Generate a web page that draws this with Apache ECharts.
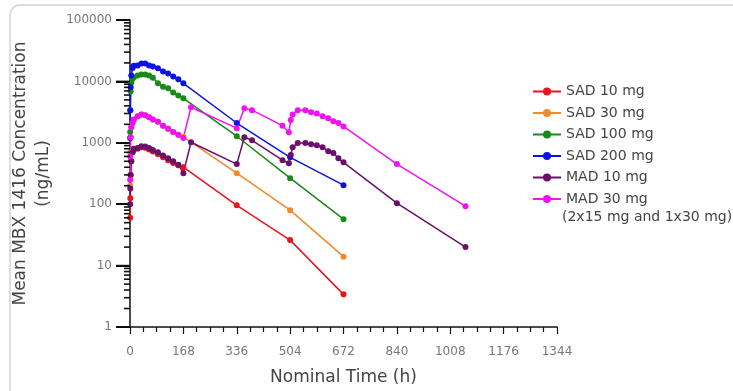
<!DOCTYPE html>
<html>
<head>
<meta charset="utf-8">
<script src="https://cdn.jsdelivr.net/npm/echarts@6/dist/echarts.min.js"></script>
<style>html,body{margin:0;padding:0;background:#fff;}#c{width:733px;height:391px;}</style>
</head>
<body>
<div id="c"></div>
<script>
// ---- data ----
const sadTimes = [0.5,1,2,4,8,12,24,36,48,60,72,88,104,120,136,152,168,336,504,672];
const sad10  = [60,125,300,500,700,780,800,850,830,780,720,650,580,520,470,430,400,96,26,3.4];
const sad30  = [200,700,1230,1800,2100,2400,2700,2900,2800,2600,2400,2200,1900,1700,1500,1350,1250,320,80,14];
const sad100 = [1500,3400,6900,9500,11000,11700,12500,13000,13000,12500,11500,9300,8200,7700,6600,5900,5300,1280,265,57];
const sad200 = [1200,3400,8000,12500,16500,18000,18200,19600,19600,18200,17500,16300,14500,13500,12000,10800,9300,2100,580,204];
const madTimes = [0.5,1,2,4,8,12,24,36,48,60,72,88,104,120,136,152,168,192,336,360,384,480,500,506,512,528,552,570,588,606,624,640,656,672,840,1056];
const mad10 = [100,180,300,500,700,800,820,880,870,820,760,700,620,560,500,440,320,1020,450,1230,1100,520,465,630,850,990,990,950,910,850,730,680,560,480,104,20];
const mad30 = [250,600,1230,1800,2100,2400,2700,2900,2800,2600,2400,2200,1900,1700,1500,1350,1200,3800,1730,3650,3400,1900,1480,2350,2900,3400,3400,3150,3000,2700,2500,2250,2100,1850,450,93];
const seriesNames = ['SAD 10 mg','SAD 30 mg','SAD 100 mg','SAD 200 mg','MAD 10 mg','MAD 30 mg'];
const seriesNote = '(2x15 mg and 1x30 mg)';
const xTickLabels = ['0','168','336','504','672','840','1008','1176','1344'];
const yTickLabels = ['1','10','100','1000','10000','100000'];
const xTitle = 'Nominal Time (h)';
const yTitle = 'Mean MBX 1416 Concentration\n(ng/mL)';

const colors = ['#e8141b','#f28a2a','#178a17','#0b12e6','#6b0f6b','#f012f0'];
const FONT = 'DejaVu Sans';

function pairs(t, v){ return t.map((x,i)=>[x, v[i]]); }
const seriesData = [
  pairs(sadTimes, sad10), pairs(sadTimes, sad30), pairs(sadTimes, sad100),
  pairs(sadTimes, sad200), pairs(madTimes, mad10), pairs(madTimes, mad30)
];
// y-axis tick marks (axis decoration): majors at decades, log-spaced minors
const yTickMarks = [];
for (let d = 0; d <= 5; d++) {
  yTickMarks.push([0, Math.pow(10, d), 14]);
  if (d < 5) for (let k = 2; k <= 9; k++) yTickMarks.push([0, k * Math.pow(10, d), 6]);
}

const chart = echarts.init(document.getElementById('c'), null, {renderer:'canvas'});
chart.setOption({
  animation: false,
  backgroundColor: '#fff',
  grid: {left:130, right:176, top:20, bottom:64},
  xAxis: {
    type:'value', min:0, max:1344, interval:168,
    axisLine:{show:true, lineStyle:{color:'#111', width:1.5}},
    axisTick:{show:true, length:7, lineStyle:{color:'#111', width:1.2}},
    minorTick:{show:true, splitNumber:4, length:5, lineStyle:{color:'#111', width:1.2}},
    splitLine:{show:false},
    axisLabel:{color:'#777', fontSize:12, margin:19, fontFamily:FONT,
      formatter:(v)=>{ const i = Math.round(v/168); return xTickLabels[i] ?? ''; }},
    name:xTitle, nameLocation:'middle', nameGap:42,
    nameTextStyle:{fontSize:17, color:'#444', fontFamily:FONT}
  },
  yAxis: {
    type:'log', logBase:10, min:1, max:100000,
    axisLine:{show:true, lineStyle:{color:'#111', width:1.5}},
    axisTick:{show:true, inside:false, length:14, lineStyle:{color:'#000', width:2}},
    splitLine:{show:false},
    axisLabel:{color:'#777', fontSize:12, margin:18, fontFamily:FONT,
      formatter:(v)=>{ const i = Math.round(Math.log10(v)); return yTickLabels[i] ?? ''; }},
    name:yTitle, nameLocation:'middle', nameGap:70, nameRotate:90,
    nameTextStyle:{fontSize:17, color:'#444', fontFamily:FONT, lineHeight:23}
  },
  legend: {
    orient:'vertical', left:527, top:78, itemWidth:28, itemHeight:10, itemGap:4.5,
    textStyle:{fontSize:14, color:'#444', fontFamily:FONT, lineHeight:17},
    data: seriesNames
  },
  graphic: [
    {type:'text', left:562, top:210, style:{text:seriesNote, fontSize:14, fill:'#444', fontFamily:FONT}},
    {type:'rect', shape:{x:10, y:5, width:740, height:400, r:10}, style:{fill:null, stroke:'#d4d4d4', lineWidth:1.5}, silent:true, z:-10}
  ],
  series: seriesNames.map((n,i)=>({
    name:n, type:'line', data:seriesData[i], color:colors[i],
    symbol:'circle', symbolSize:6, showSymbol:true,
    lineStyle:{width:1.5}, itemStyle:{color:colors[i]}
  })).concat([{
    name:'yTicks', type:'custom', coordinateSystem:'cartesian2d', silent:true, clip:false, z:10,
    dimensions:['x','y','len'], encode:{x:'x', y:'y'},
    data: yTickMarks,
    renderItem: function (params, api) {
      const p = api.coord([api.value('x'), api.value('y')]);
      const len = api.value('len');
      return {type:'rect', shape:{x:p[0]-len, y:p[1]-0.8, width:len, height:1.6},
              style:{fill:'#111'}};
    }
  }])
});
</script>
</body>
</html>
